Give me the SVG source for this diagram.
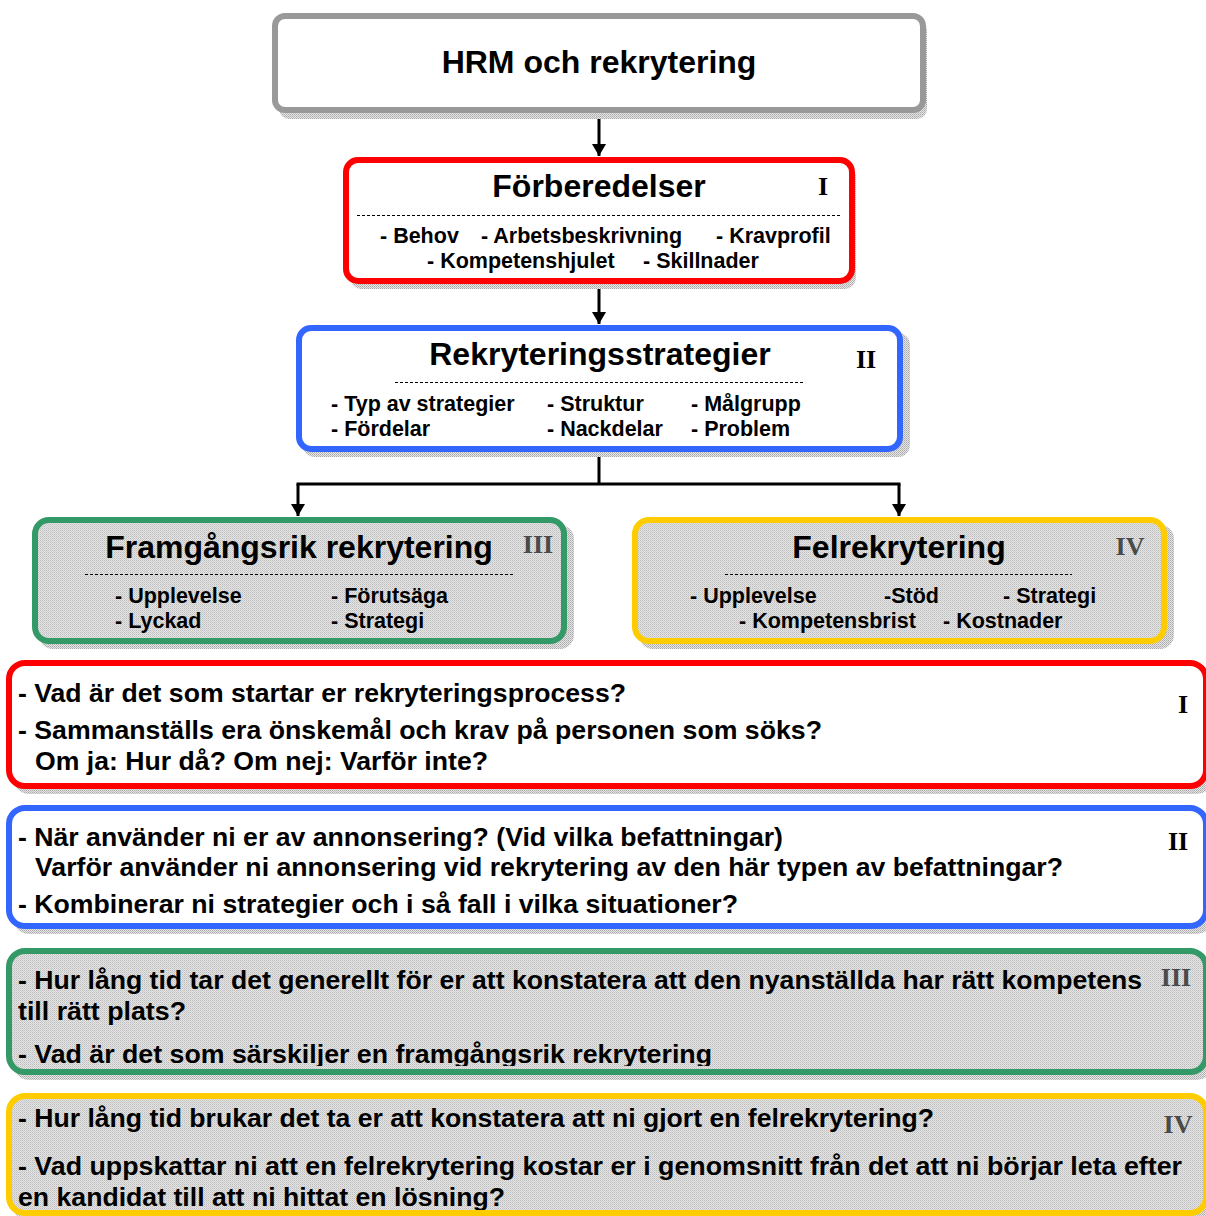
<svg xmlns="http://www.w3.org/2000/svg" width="1206" height="1216" viewBox="0 0 1206 1216">
<defs>
<pattern id="chk" width="2" height="2" patternUnits="userSpaceOnUse">
<rect width="2" height="2" fill="#e4e4e4"/>
<rect width="1" height="1" fill="#bdbdbd"/>
<rect x="1" y="1" width="1" height="1" fill="#cfcfcf"/>
</pattern>
<pattern id="shd" width="2" height="2" patternUnits="userSpaceOnUse">
<rect width="2" height="2" fill="#e6e6e6"/>
<rect width="1" height="1" fill="#a8a8a8"/>
<rect x="1" y="1" width="1" height="1" fill="#bcbcbc"/>
</pattern>
<marker id="ah" viewBox="0 0 12 14" refX="12" refY="7" markerWidth="12" markerHeight="14" markerUnits="userSpaceOnUse" orient="auto">
<path d="M0,0 L12,7 L0,14 Z" fill="#000"/>
</marker>
<clipPath id="clipG"><rect x="0" y="940" width="1206" height="126"/></clipPath>
<clipPath id="clipY"><rect x="0" y="1090" width="1206" height="120"/></clipPath>
</defs>
<style>
.box{stroke-width:6}
.shadow{fill:url(#shd)}
.title{font-family:"Liberation Sans",Arial,sans-serif;font-weight:bold;font-size:32px;fill:#000;text-anchor:middle}
.item{font-family:"Liberation Sans",Arial,sans-serif;font-weight:bold;font-size:21.5px;fill:#000}
.q{font-family:"Liberation Sans",Arial,sans-serif;font-weight:bold;font-size:26px;fill:#000}
.num{font-family:"Liberation Serif","Times New Roman",serif;font-weight:bold;font-size:26px;fill:#000;text-anchor:middle}
.numg{font-family:"Liberation Serif","Times New Roman",serif;font-weight:bold;font-size:26px;fill:#4a4a4a;text-anchor:middle}
.dash{stroke:#000;stroke-width:1;stroke-dasharray:3 2;fill:none}
.conn{stroke:#000;stroke-width:3;fill:none}
</style>

<g id="connectors">
<line class="conn" x1="599" y1="113" x2="599" y2="156" marker-end="url(#ah)"/>
<line class="conn" x1="599" y1="284" x2="599" y2="324" marker-end="url(#ah)"/>
<polyline class="conn" points="599,452 599,484"/>
<polyline class="conn" points="296.5,484 900.5,484"/>
<line class="conn" x1="298" y1="484" x2="298" y2="516" marker-end="url(#ah)"/>
<line class="conn" x1="899" y1="484" x2="899" y2="516" marker-end="url(#ah)"/>
</g>

<g id="hrm">
<rect class="shadow" x="279" y="20" width="648" height="99" rx="10"/>
<rect class="box" x="275" y="16" width="648" height="94" rx="10" fill="#fff" stroke="#999999"/>
<text class="title" x="599" y="73">HRM och rekrytering</text>
</g>

<g id="forberedelser">
<rect class="shadow" x="350" y="165" width="506" height="124" rx="12"/>
<rect class="box" x="346" y="160" width="506" height="121" rx="12" fill="#fff" stroke="#ff0000"/>
<text class="title" x="599" y="197">Förberedelser</text>
<text class="num" x="823" y="195">I</text>
<line class="dash" x1="357" y1="215.5" x2="840" y2="215.5"/>
<text class="item" x="380" y="243">- Behov</text>
<text class="item" x="481" y="243">- Arbetsbeskrivning</text>
<text class="item" x="716" y="243">- Kravprofil</text>
<text class="item" x="427" y="268">- Kompetenshjulet</text>
<text class="item" x="643" y="268">- Skillnader</text>
</g>

<g id="strategier">
<rect class="shadow" x="303" y="333" width="607" height="124" rx="12"/>
<rect class="box" x="299" y="328" width="601" height="121" rx="12" fill="#fff" stroke="#3366ff"/>
<text class="title" x="600" y="365">Rekryteringsstrategier</text>
<text class="num" x="866" y="368">II</text>
<line class="dash" x1="395" y1="382.5" x2="803" y2="382.5"/>
<text class="item" x="331" y="411">- Typ av strategier</text>
<text class="item" x="547" y="411">- Struktur</text>
<text class="item" x="691" y="411">- Målgrupp</text>
<text class="item" x="331" y="436">- Fördelar</text>
<text class="item" x="547" y="436">- Nackdelar</text>
<text class="item" x="691" y="436">- Problem</text>
</g>

<g id="framgangsrik">
<rect class="shadow" x="39" y="525" width="535" height="124" rx="14"/>
<rect class="box" x="35" y="520" width="529" height="121" rx="14" fill="url(#chk)" stroke="#339966"/>
<text class="title" x="299" y="558">Framgångsrik rekrytering</text>
<text class="numg" x="538" y="553">III</text>
<line class="dash" x1="85" y1="574.5" x2="514" y2="574.5"/>
<text class="item" x="115" y="603">- Upplevelse</text>
<text class="item" x="331" y="603">- Förutsäga</text>
<text class="item" x="115" y="628">- Lyckad</text>
<text class="item" x="331" y="628">- Strategi</text>
</g>

<g id="felrekrytering">
<rect class="shadow" x="639" y="525" width="535" height="124" rx="14"/>
<rect class="box" x="635" y="520" width="529" height="121" rx="14" fill="url(#chk)" stroke="#ffcc00"/>
<text class="title" x="899" y="558">Felrekrytering</text>
<text class="numg" x="1130" y="555">IV</text>
<line class="dash" x1="725" y1="574.5" x2="1072" y2="574.5"/>
<text class="item" x="690" y="603">- Upplevelse</text>
<text class="item" x="884" y="603">-Stöd</text>
<text class="item" x="1003" y="603">- Strategi</text>
<text class="item" x="739" y="628">- Kompetensbrist</text>
<text class="item" x="943" y="628">- Kostnader</text>
</g>

<g id="fragor-I">
<rect class="shadow" x="13" y="668" width="1200" height="126" rx="16"/>
<rect class="box" x="9" y="663" width="1197" height="123" rx="16" fill="#fff" stroke="#ff0000"/>
<text class="q" x="18" y="702" textLength="608" lengthAdjust="spacingAndGlyphs">- Vad är det som startar er rekryteringsprocess?</text>
<text class="q" x="18" y="739" textLength="804" lengthAdjust="spacingAndGlyphs">- Sammanställs era önskemål och krav på personen som söks?</text>
<text class="q" x="35" y="770" textLength="453" lengthAdjust="spacingAndGlyphs">Om ja: Hur då? Om nej: Varför inte?</text>
<text class="num" x="1183" y="713">I</text>
</g>

<g id="fragor-II">
<rect class="shadow" x="13" y="813" width="1200" height="121" rx="16"/>
<rect class="box" x="9" y="808" width="1197" height="118" rx="16" fill="#fff" stroke="#3366ff"/>
<text class="q" x="18" y="846" textLength="765" lengthAdjust="spacingAndGlyphs">- När använder ni er av annonsering? (Vid vilka befattningar)</text>
<text class="q" x="35" y="876" textLength="1028" lengthAdjust="spacingAndGlyphs">Varför använder ni annonsering vid rekrytering av den här typen av befattningar?</text>
<text class="q" x="18" y="913" textLength="720" lengthAdjust="spacingAndGlyphs">- Kombinerar ni strategier och i så fall i vilka situationer?</text>
<text class="num" x="1178" y="850">II</text>
</g>

<g id="fragor-III">
<rect class="shadow" x="13" y="956" width="1200" height="124" rx="16"/>
<rect class="box" x="9" y="951" width="1197" height="121" rx="16" fill="url(#chk)" stroke="#339966"/>
<g clip-path="url(#clipG)">
<text class="q" x="18" y="989" textLength="1124" lengthAdjust="spacingAndGlyphs">- Hur lång tid tar det generellt för er att konstatera att den nyanställda har rätt kompetens</text>
<text class="q" x="18" y="1020" textLength="168" lengthAdjust="spacingAndGlyphs">till rätt plats?</text>
<text class="q" x="18" y="1063" textLength="694" lengthAdjust="spacingAndGlyphs">- Vad är det som särskiljer en framgångsrik rekrytering</text>
</g>
<text class="numg" x="1176" y="986">III</text>
</g>

<g id="fragor-IV">
<rect class="shadow" x="13" y="1101" width="1200" height="120" rx="16"/>
<rect class="box" x="9" y="1096" width="1197" height="117" rx="16" fill="url(#chk)" stroke="#ffcc00"/>
<g clip-path="url(#clipY)">
<text class="q" x="18" y="1127" textLength="916" lengthAdjust="spacingAndGlyphs">- Hur lång tid brukar det ta er att konstatera att ni gjort en felrekrytering?</text>
<text class="q" x="18" y="1175" textLength="1164" lengthAdjust="spacingAndGlyphs">- Vad uppskattar ni att en felrekrytering kostar er i genomsnitt från det att ni börjar leta efter</text>
<text class="q" x="18" y="1206" textLength="487" lengthAdjust="spacingAndGlyphs">en kandidat till att ni hittat en lösning?</text>
</g>
<text class="numg" x="1178" y="1133">IV</text>
</g>
</svg>
